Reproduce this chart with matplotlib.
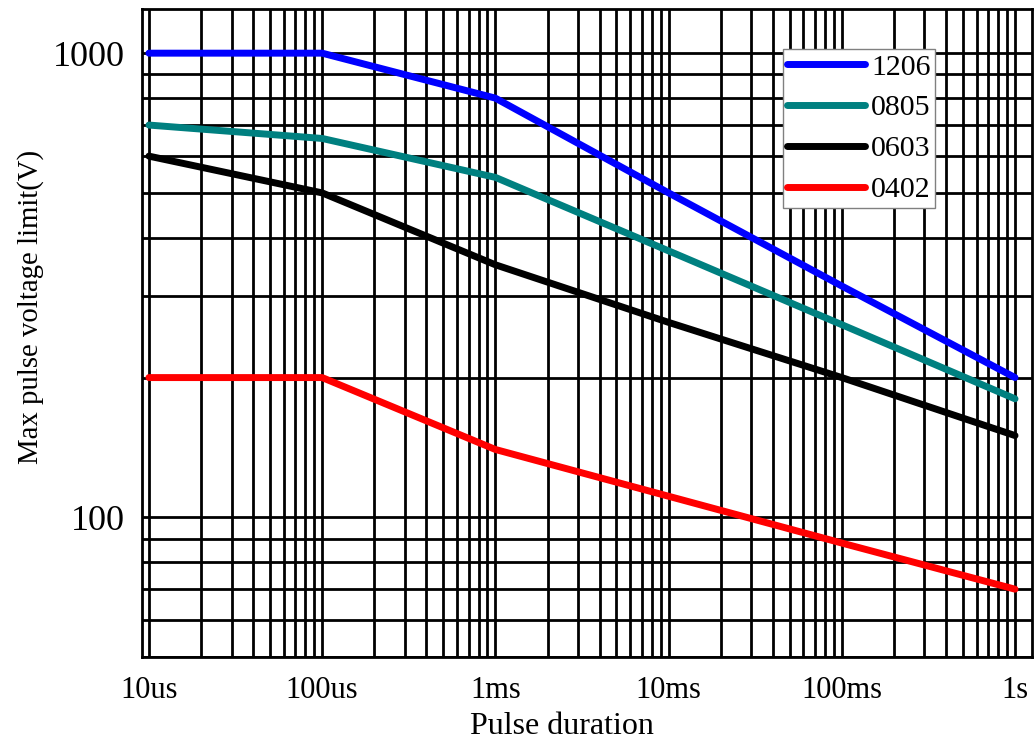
import matplotlib

matplotlib.use("Agg")
import matplotlib.pyplot as plt
from matplotlib.ticker import FixedLocator, NullFormatter

plt.rcParams["font.family"] = ["Liberation Serif", "DejaVu Serif"]

### Data
# Pulse duration (s) at the decade points
durations = [1e-5, 1e-4, 1e-3, 1e-2, 1e-1, 1]
duration_labels = ["10us", "100us", "1ms", "10ms", "100ms", "1s"]

# Max pulse voltage (V) per package size
v_1206 = [1000, 1000, 800, 500, 315, 200]
v_0805 = [700, 655, 540, 375, 260, 180]
v_0603 = [600, 500, 350, 263, 200, 150]
v_0402 = [200, 200, 140, 111, 88, 70]

series = [
    ("1206", v_1206, "#0000ff"),
    ("0805", v_0805, "#008080"),
    ("0603", v_0603, "#000000"),
    ("0402", v_0402, "#ff0000"),
]

y_ticks = [100, 1000]

fig = plt.figure(figsize=(10.35, 7.45), dpi=100)
ax = fig.add_axes([142 / 1035, 1 - 657 / 745, 890 / 1035, 648 / 745])

ax.set_xscale("log")
ax.set_yscale("log")
ax.set_xlim(10 ** -5.04, 10 ** 0.098)
ax.set_ylim(50, 1245)

# Grid on every decade and every sub-decade step
x_minor = [m * 10.0**e for e in range(-5, 0) for m in range(2, 10)]
y_minor = [m * 10.0**e for e in range(1, 3) for m in range(2, 10)]
ax.xaxis.set_major_locator(FixedLocator(durations))
ax.xaxis.set_minor_locator(FixedLocator(x_minor))
ax.yaxis.set_major_locator(FixedLocator(y_ticks))
ax.yaxis.set_minor_locator(FixedLocator(y_minor))
ax.set_xticklabels(duration_labels)
ax.set_yticklabels([str(t) for t in y_ticks])
ax.xaxis.set_minor_formatter(NullFormatter())
ax.yaxis.set_minor_formatter(NullFormatter())

ax.grid(True, which="both", color="black", linewidth=2.0)
ax.tick_params(which="both", length=0)
ax.tick_params(axis="x", labelsize=22, pad=14)
ax.tick_params(axis="y", labelsize=26, pad=12)
for spine in ax.spines.values():
    spine.set_linewidth(2.0)
ax.set_axisbelow(True)

for name, values, color in series:
    ax.plot(
        durations,
        values,
        color=color,
        linewidth=5,
        solid_capstyle="round",
        solid_joinstyle="round",
        label=name,
    )

ax.set_xlabel("Pulse duration", fontsize=23)
ax.set_ylabel("Max pulse voltage limit(V)", fontsize=20.7)
ax.xaxis.set_label_coords(0.472, -0.085)
ax.yaxis.set_label_coords(-0.11, 0.54)

leg = ax.legend(
    loc="upper left",
    bbox_to_anchor=(0.720, 0.938),
    borderaxespad=0,
    fontsize=21.5,
    handlelength=2.6,
    handletextpad=0.2,
    borderpad=0.15,
    labelspacing=0.47,
    fancybox=False,
    framealpha=1,
    edgecolor="#808080",
)
leg.get_frame().set_linewidth(1.0)

fig.savefig("out.png", dpi=100)
plt.close(fig)
